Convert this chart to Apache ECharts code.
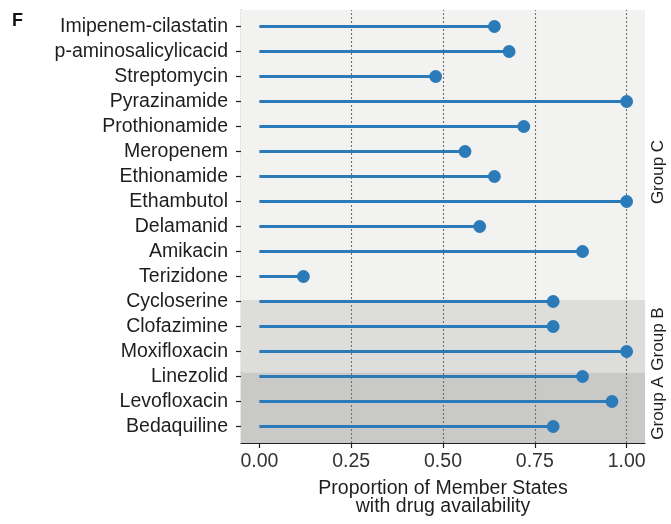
<!DOCTYPE html>
<html>
<head>
<meta charset="utf-8">
<script src="https://cdn.jsdelivr.net/npm/echarts@6/dist/echarts.min.js"></script>
<style>
html,body{margin:0;padding:0;background:#fff;}
#chart{width:671px;height:524px;}
</style>
</head>
<body>
<div id="chart"></div>
<script>
// ---- data ----
const drugs = ['Imipenem-cilastatin','p-aminosalicylicacid','Streptomycin','Pyrazinamide','Prothionamide','Meropenem','Ethionamide','Ethambutol','Delamanid','Amikacin','Terizidone','Cycloserine','Clofazimine','Moxifloxacin','Linezolid','Levofloxacin','Bedaquiline'];
const values = [0.64,0.68,0.48,1.00,0.72,0.56,0.64,1.00,0.60,0.88,0.12,0.80,0.80,1.00,0.88,0.96,0.80];
const groupNames = ['Group C','Group B','Group A'];
const xTicks = [0,0.25,0.5,0.75,1.0];
const gridTicks = [0.25,0.5,0.75,1.0];

const n = drugs.length;
const yPos = drugs.map((d,i)=> n - i);          // top item = n, bottom = 1
const seriesData = values.map((v,i)=>[v, yPos[i]]);
const yMin = 0.34, yMax = n + 0.66;
// band limits (in y-axis units) for groups C, B, A
const bands = [[6.06, yMax, '#f2f2f1'], [3.16, 6.06, '#dddddc'], [yMin, 3.16, '#c9c9c8']];

const FONT = "'Liberation Sans', Arial, Helvetica, sans-serif";
const FS = 19.5;
const TXT = '#1e1e1e';
const BLUE = '#2b7bb9';

const chart = echarts.init(document.getElementById('chart'), null, {renderer:'canvas'});
const option = {
  animation:false,
  textStyle:{fontFamily:FONT},
  grid:{left:241, right:26, top:10, bottom:81, containLabel:false},
  xAxis:{
    type:'value', min:-0.05, max:1.05,
    axisLine:{show:true, onZero:false, lineStyle:{color:TXT, width:1.2}},
    axisTick:{show:true, length:5, customValues:xTicks, lineStyle:{color:TXT, width:1.2}},
    axisLabel:{customValues:xTicks, formatter:v=>Number(v).toFixed(2), color:'#333', fontSize:FS, fontFamily:FONT, margin:9},
    splitLine:{show:false},
    name:'Proportion of Member States\nwith drug availability',
    nameLocation:'middle', nameGap:37,
    nameTextStyle:{color:TXT, fontSize:FS, fontFamily:FONT, lineHeight:17.5}
  },
  yAxis:{
    type:'value', min:yMin, max:yMax,
    axisLine:{show:true, onZero:false, lineStyle:{color:TXT, width:1.2}},
    axisTick:{show:true, length:5, customValues:yPos, lineStyle:{color:TXT, width:1.2}},
    axisLabel:{customValues:yPos, formatter:v=>drugs[n - Math.round(v)], color:TXT, fontSize:FS, fontFamily:FONT, margin:13},
    splitLine:{show:false}
  },
  series:[
    {
      type:'line', data:[], z:1, silent:true,
      markArea:{silent:true, data: bands.map(b=>[{yAxis:b[0], itemStyle:{color:b[2]}},{yAxis:b[1]}])},
      markLine:{silent:true, symbol:'none', label:{show:false},
        lineStyle:{type:[2,2], color:'#6e6e6e', width:1.1},
        data: gridTicks.map(t=>({xAxis:t}))}
    },
    {
      type:'custom', z:5, data:seriesData,
      renderItem:function(params, api){
        const v = api.value(0), y = api.value(1);
        const p0 = api.coord([0, y]);
        const p1 = api.coord([v, y]);
        return {type:'group', children:[
          {type:'line', shape:{x1:p0[0], y1:p0[1], x2:p1[0], y2:p1[1]}, style:{stroke:BLUE, lineWidth:2.8}},
          {type:'circle', shape:{cx:p1[0], cy:p1[1], r:6.4}, style:{fill:BLUE}}
        ]};
      }
    }
  ],
  graphic:[
    {type:'text', x:12, y:12, style:{text:'F', font:"bold 18px 'Liberation Sans', Arial, sans-serif", fill:'#111', verticalAlign:'top'}},
    {type:'text', x:658, y:172, rotation:Math.PI/2, style:{text:groupNames[0], font:"17px 'Liberation Sans', Arial, sans-serif", fill:TXT, align:'center', verticalAlign:'middle'}},
    {type:'text', x:658, y:339, rotation:Math.PI/2, style:{text:groupNames[1], font:"17px 'Liberation Sans', Arial, sans-serif", fill:TXT, align:'center', verticalAlign:'middle'}},
    {type:'text', x:658, y:408, rotation:Math.PI/2, style:{text:groupNames[2], font:"17px 'Liberation Sans', Arial, sans-serif", fill:TXT, align:'center', verticalAlign:'middle'}}
  ]
};
chart.setOption(option);
</script>
</body>
</html>
